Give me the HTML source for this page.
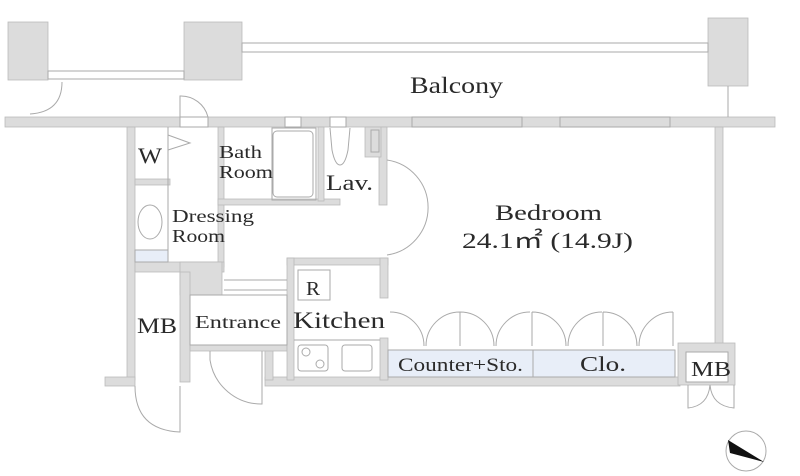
<!DOCTYPE html>
<html><head><meta charset="utf-8"><style>
html,body{margin:0;padding:0;background:#fff}
svg{display:block}
text{font-family:"Liberation Serif",serif;fill:#2a2a2a}
</style></head><body>
<svg width="800" height="476" viewBox="0 0 800 476" xmlns="http://www.w3.org/2000/svg">
<g fill="#dcdcdc" stroke="#bbb" stroke-width="0.8">
<rect x="8" y="22" width="40" height="58"/>
<rect x="184" y="22" width="58" height="58"/>
<rect x="708" y="18" width="40" height="68"/>
<rect x="5" y="117" width="770" height="10"/>
<rect x="127" y="127" width="8" height="253"/>
<rect x="105" y="377" width="30" height="9"/>
<rect x="715" y="127" width="8" height="218"/>
<rect x="265" y="377" width="415" height="9"/>
<rect x="265" y="345" width="8" height="35"/>
<rect x="678" y="343" width="57" height="42"/>
<rect x="135" y="179" width="35" height="6"/>
<rect x="218" y="127" width="6" height="140"/>
<rect x="218" y="199" width="122" height="6"/>
<rect x="318" y="127" width="6" height="74"/>
<rect x="379" y="127" width="8" height="78"/>
<rect x="365" y="127" width="16" height="30"/>
<rect x="135" y="262" width="89" height="10"/>
<rect x="180" y="262" width="42" height="33"/>
<rect x="180" y="272" width="10" height="110"/>
<rect x="190" y="345" width="97" height="6"/>
<rect x="287" y="258" width="101" height="7"/>
<rect x="287" y="258" width="7" height="122"/>
<rect x="380" y="258" width="8" height="40"/>
<rect x="380" y="338" width="8" height="42"/>
</g>
<g fill="none" stroke="#aaa" stroke-width="1">
<rect x="48" y="71" width="136" height="8"/>
<rect x="242" y="43" width="466" height="9"/>
<line x1="728" y1="86" x2="728" y2="117"/>
<rect x="412" y="117" width="110" height="10"/>
<rect x="560" y="117" width="110" height="10"/>
<rect x="285" y="117" width="16" height="10" fill="#fff"/>
<rect x="330" y="117" width="16" height="10" fill="#fff"/>
<rect x="180" y="117" width="28" height="10" fill="#fff"/>
<path d="M30 114 Q62 112 62 82"/>
<path d="M180 117 L180 96 A28 28 0 0 1 208 117"/>
<path d="M387 160 A48 48 0 0 1 387 255"/>
<path d="M168 135 L190 143 L168 150"/>
<rect x="273" y="131" width="40" height="66" rx="4"/>
<rect x="272" y="128" width="44" height="72"/>
<path d="M330 128 L332 150 Q335 165 340 165 Q345 165 348 150 L350 128"/>
<rect x="371" y="130" width="8" height="22"/>
<ellipse cx="150" cy="222" rx="12" ry="17"/>
<rect x="135" y="250" width="33" height="12" fill="#e8eef8"/>
<line x1="168" y1="127" x2="168" y2="262"/>
<rect x="190" y="295" width="97" height="50"/>
<line x1="224" y1="280" x2="287" y2="280"/>
<line x1="224" y1="290" x2="287" y2="290"/>
<path d="M210 351 L210 360 A52 52 0 0 0 262 404 L262 351"/>
<path d="M135 386 Q135 430 180 432 L180 386"/>
<rect x="298" y="270" width="32" height="30"/>
<line x1="294" y1="340" x2="380" y2="340"/>
<rect x="298" y="345" width="30" height="26" rx="3"/>
<circle cx="306" cy="352" r="4"/><circle cx="320" cy="364" r="4"/>
<rect x="342" y="345" width="30" height="26" rx="3"/>
<rect x="388" y="350" width="287" height="27" fill="#e8eef8"/>
<line x1="533" y1="350" x2="533" y2="377"/>
<path d="M390 312 A34 34 0 0 1 424 346 M460 312 A34 34 0 0 0 426 346 M460 312 L460 346 M460 312 A34 34 0 0 1 494 346 M530 312 A34 34 0 0 0 496 346 M532 312 L532 346 M532 312 A34 34 0 0 1 566 346 M602 312 A34 34 0 0 0 568 346 M603 312 L603 346 M603 312 A34 34 0 0 1 637 346 M673 312 A34 34 0 0 0 639 346 M673 312 L673 346"/>
<rect x="686" y="352" width="42" height="30" fill="#fff"/>
<path d="M688 385 L688 408 Q708 406 710 385 M734 385 L734 408 Q712 406 710 385"/>
<circle cx="746" cy="451" r="20"/>
</g>
<path d="M728 440 L764 462 L730 453 Z" fill="#111"/>
<text x="410" y="93" font-size="23" textLength="93" lengthAdjust="spacingAndGlyphs">Balcony</text>
<text x="138" y="163" font-size="22" textLength="24" lengthAdjust="spacingAndGlyphs">W</text>
<text x="219" y="158" font-size="18" textLength="43" lengthAdjust="spacingAndGlyphs">Bath</text>
<text x="219" y="178" font-size="18" textLength="54" lengthAdjust="spacingAndGlyphs">Room</text>
<text x="326" y="190" font-size="22" textLength="47" lengthAdjust="spacingAndGlyphs">Lav.</text>
<text x="172" y="222" font-size="18" textLength="82" lengthAdjust="spacingAndGlyphs">Dressing</text>
<text x="172" y="242" font-size="18" textLength="53" lengthAdjust="spacingAndGlyphs">Room</text>
<text x="495" y="220" font-size="22" textLength="107" lengthAdjust="spacingAndGlyphs">Bedroom</text>
<text x="462" y="248" font-size="22" textLength="171" lengthAdjust="spacingAndGlyphs">24.1㎡ (14.9J)</text>
<text x="137" y="333" font-size="22" textLength="40" lengthAdjust="spacingAndGlyphs">MB</text>
<text x="195" y="328" font-size="18" textLength="86" lengthAdjust="spacingAndGlyphs">Entrance</text>
<text x="306" y="295" font-size="20" textLength="14" lengthAdjust="spacingAndGlyphs">R</text>
<text x="293" y="328" font-size="23" textLength="92" lengthAdjust="spacingAndGlyphs">Kitchen</text>
<text x="398" y="371" font-size="19" textLength="125" lengthAdjust="spacingAndGlyphs">Counter+Sto.</text>
<text x="580" y="371" font-size="21" textLength="46" lengthAdjust="spacingAndGlyphs">Clo.</text>
<text x="691" y="376" font-size="21" textLength="40" lengthAdjust="spacingAndGlyphs">MB</text>
</svg>
</body></html>
